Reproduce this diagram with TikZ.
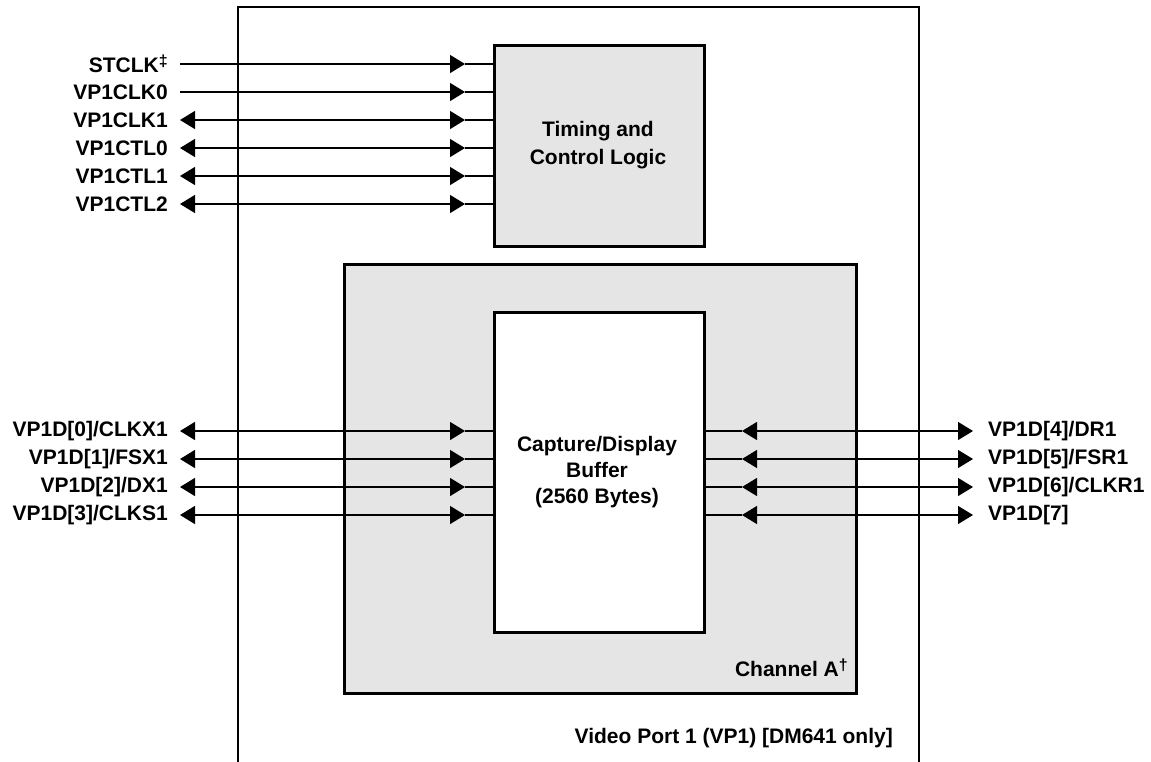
\documentclass[tikz,border=0pt]{standalone}
\usepackage{fontspec}
\setmainfont{Liberation Sans}
\usetikzlibrary{arrows.meta}
\begin{document}
\begin{tikzpicture}[x=1pt,y=-1pt,
  lbl/.style={font=\fontsize{21}{24}\selectfont\bfseries, inner sep=0pt},
  sig/.style={line width=1.3pt},
  tri/.style={line width=1.3pt, {Triangle[length=15pt,width=18pt]}-{Triangle[length=15pt,width=18pt]}},
  trir/.style={line width=1.3pt, -{Triangle[length=15pt,width=18pt]}},
  block/.style={draw, line width=3pt, fill=black!10}]
\useasboundingbox (0,0) rectangle (1151,761);
% outer box (open at bottom)
\draw[line width=2pt] (238,765) -- (238,7) -- (919,7) -- (919,765);
% timing block
\node[block, inner sep=0pt, anchor=north west, minimum width=210pt, minimum height=201pt] (tim) at (493,44) {};
\node[lbl, align=center, font=\fontsize{21}{28}\selectfont\bfseries] (timt) at (598,145) {Timing and\\Control Logic};
% channel block
\node[block, inner sep=0pt, anchor=north west, minimum width=512pt, minimum height=429pt] (chan) at (343,263) {};
\node[lbl, anchor=base east] (chant) at (848,676) {Channel A\raisebox{6pt}{\fontsize{16}{16}\selectfont\textdagger}};
% buffer
\node[draw, line width=2.5pt, fill=white, inner sep=0pt, anchor=north west, minimum width=210pt, minimum height=320pt] (buf) at (493,311) {};
\node[lbl, align=center, font=\fontsize{21}{26}\selectfont\bfseries] (buft) at (597,472) {Capture/Display\\Buffer\\(2560 Bytes)};
% bottom label
\node[lbl, anchor=base east] (vpt) at (893,743) {Video Port 1 (VP1) [DM641 only]};
% top signals
\foreach \name/\txt/\y/\bi in {a/{STCLK\raisebox{6pt}{\fontsize{16}{16}\selectfont\textdaggerdbl}}/64/0, b/VP1CLK0/92/0, c/VP1CLK1/120/1, d/VP1CTL0/148/1, e/VP1CTL1/176/1, f/VP1CTL2/204/1}{
  \node[lbl, anchor=east] (L\name) at (168,\y) {\txt};
  \coordinate (S\name) at (180,\y);
  \coordinate (T\name) at (465,\y);
  \ifnum\bi=1
    \draw[tri] (S\name) -- (T\name);
  \else
    \draw[trir] (S\name) -- (T\name);
  \fi
  \draw[sig] (T\name) -- (tim.west |- T\name);
}
% left data signals
\foreach \name/\txt/\y in {g/{VP1D[0]/CLKX1}/431, h/{VP1D[1]/FSX1}/459, i/{VP1D[2]/DX1}/487, j/{VP1D[3]/CLKS1}/515}{
  \node[lbl, anchor=east] (L\name) at (168,\y) {\txt};
  \coordinate (S\name) at (180,\y);
  \coordinate (T\name) at (465,\y);
  \draw[tri] (S\name) -- (T\name);
  \draw[sig] (T\name) -- (buf.west |- T\name);
}
% right data signals
\foreach \name/\txt/\y in {k/{VP1D[4]/DR1}/431, l/{VP1D[5]/FSR1}/459, m/{VP1D[6]/CLKR1}/487, n/{VP1D[7]}/515}{
  \node[lbl, anchor=west] (L\name) at (988,\y) {\txt};
  \coordinate (S\name) at (742,\y);
  \coordinate (T\name) at (973,\y);
  \draw[sig] (buf.east |- S\name) -- (S\name);
  \draw[tri] (S\name) -- (T\name);
}
\end{tikzpicture}
\end{document}
